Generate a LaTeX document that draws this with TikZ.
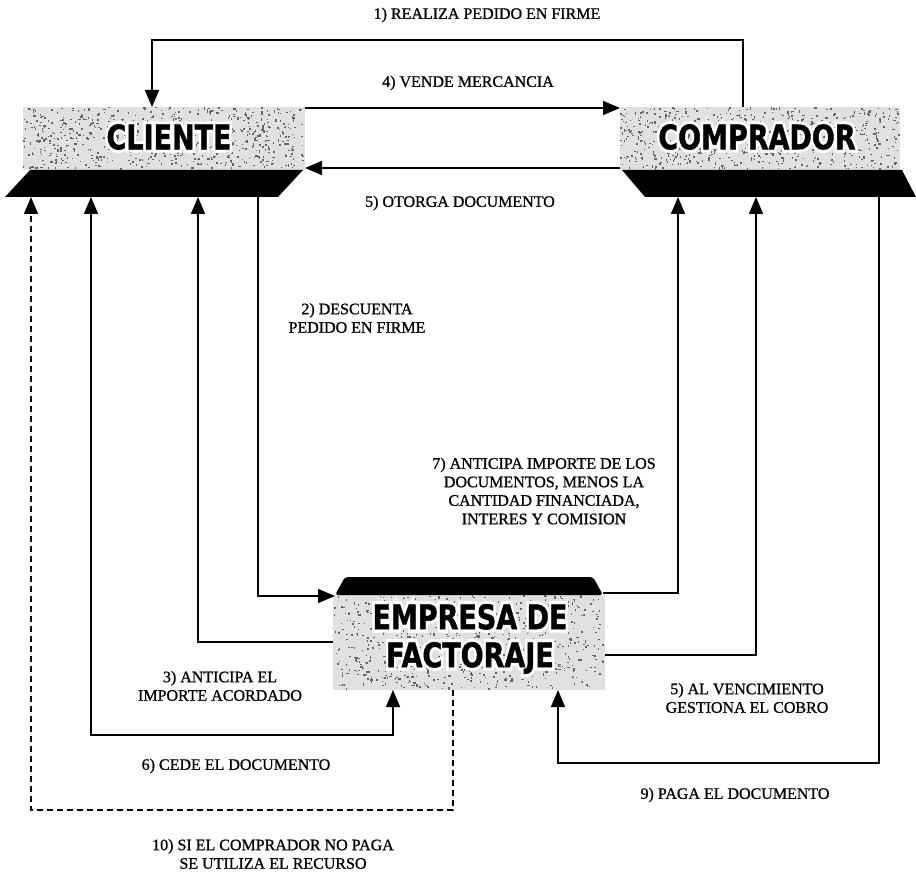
\documentclass[tikz,border=0pt]{standalone}
\usepackage{fontspec}
\usepackage{graphicx}
\setmainfont{Liberation Serif}[FakeBold=0.9]
\newfontfamily\boxfont{DejaVu Sans}[BoldFeatures={FakeBold=1.5}]
\newfontfamily\boxhalo{DejaVu Sans}[BoldFeatures={FakeBold=20}]
\usetikzlibrary{arrows.meta}

% bold word over a thickened white copy of itself (white halo)
\newcommand\halotext[1]{%
  \setbox0=\hbox{\boxfont\bfseries#1}%
  \leavevmode
  \rlap{\makebox[\wd0][c]{\color{white}\boxhalo\bfseries#1}}%
  \box0}
\newcommand\tallword[1]{\scalebox{1}[1.25]{\halotext{#1}}}

\begin{document}
\begin{tikzpicture}[x=1pt,y=-1pt,
  tip/.tip={Triangle[length=17pt,width=14pt]},
  flow/.style={line width=1.5pt,-tip},
  twoway/.style={line width=1.5pt,tip-tip},
  recourse/.style={flow,dash pattern=on 6pt off 4pt},
  lbl/.style={font=\fontsize{16}{18.5}\selectfont,align=center,inner sep=0pt},
  party/.style={inner sep=0pt,outer sep=0pt,align=center,
    font=\fontsize{27}{38}\selectfont},
  panelbg/.style={fill=black!12},
  speck/.style={fill=black!60},
  bar/.style={fill=black}
]
\useasboundingbox (0,0) rectangle (916,877);
\pgfmathsetseed{4242}

% ---- grainy panels behind the three parties
\fill[panelbg] (23,107) rectangle (305,170);
\fill[panelbg] (620,107) rectangle (900,170);
\fill[panelbg] (333,595) rectangle (605,690);
\foreach \i in {1,...,650}{
  \fill[speck] ({23+rnd*280},{107+rnd*61}) rectangle ++({0.8+rnd*1.6},{0.8+rnd*1.6});
  \fill[speck] ({620+rnd*278},{107+rnd*61}) rectangle ++({0.8+rnd*1.6},{0.8+rnd*1.6});
  \fill[speck] ({333+rnd*270},{595+rnd*93}) rectangle ++({0.8+rnd*1.6},{0.8+rnd*1.6});
}

% ---- black bars under / over the panels
\fill[bar] (30,170) -- (303,170) -- (278,197) -- (5,197) -- cycle;
\fill[bar] (622,170) -- (902,170) -- (916,197) -- (645,197) -- cycle;
\fill[bar,rounded corners=3pt] (345,577) -- (593,577) -- (603,595) -- (335,595) -- cycle;
\coordinate (clibar) at (154,197);
\coordinate (combar) at (780,197);
\coordinate (facbarL) at (335,596);
\coordinate (facbarR) at (603,593);

% ---- the three parties
\node[party,minimum width=282,minimum height=63] (cli) at (164,138.5) {};
\node[party] (clitext) at (169,137) {\tallword{CLIENTE}};
\node[party,minimum width=280,minimum height=63] (com) at (760,138.5) {};
\node[party] (comtext) at (757,137) {\tallword{COMPRADOR}};
\node[party,minimum width=272,minimum height=95] (fac) at (469,642.5) {};
\node[party] (factext) at (470,639) {\tallword{EMPRESA DE}\\\tallword{FACTORAJE}};

% ---- flows between the parties
\draw[flow] (com.north -| 743,0) -- (743,40) -| (cli.north -| 152,0);
\draw[flow] (cli.east |- 0,108) -- (com.west |- 0,108);
\draw[flow] (com.west |- 0,168) -- (cli.east |- 0,168);
\draw[flow] (clibar -| 258,0) |- (facbarL);
\draw[flow] (fac.west |- 0,642) -| (clibar -| 198,0);
\draw[twoway] (clibar -| 91,0) -- (91,735) -| (fac.south -| 393,0);
\draw[recourse] (fac.south -| 453,0) -- (453,810) -| (clibar -| 31,0);
\draw[flow] (facbarR) -| (combar -| 678,0);
\draw[flow] (fac.east |- 0,655) -| (combar -| 756,0);
\draw[flow] (combar -| 879,0) -- (879,763) -| (fac.south -| 558,0);

% ---- labels
\node[lbl] (l1) at (487,15) {1) REALIZA PEDIDO EN FIRME};
\node[lbl] (l4) at (468,83) {4) VENDE MERCANCIA};
\node[lbl] (l5) at (460,203) {5) OTORGA DOCUMENTO};
\node[lbl] (l2) at (357,318) {2) DESCUENTA\\PEDIDO EN FIRME};
\node[lbl] (l7) at (544,491) {7) ANTICIPA IMPORTE DE LOS\\DOCUMENTOS, MENOS LA\\CANTIDAD FINANCIADA,\\INTERES Y COMISION};
\node[lbl] (l3) at (220,686) {3) ANTICIPA EL\\IMPORTE ACORDADO};
\node[lbl] (l6) at (236,766) {6) CEDE EL DOCUMENTO};
\node[lbl] (l5b) at (747,698) {5) AL VENCIMIENTO\\GESTIONA EL COBRO};
\node[lbl] (l9) at (735,795) {9) PAGA EL DOCUMENTO};
\node[lbl] (l10) at (273,854) {10) SI EL COMPRADOR NO PAGA\\SE UTILIZA EL RECURSO};
\end{tikzpicture}
\end{document}
